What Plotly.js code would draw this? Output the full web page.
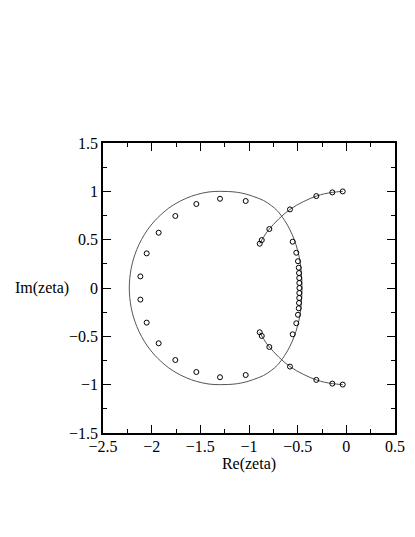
<!DOCTYPE html>
<html>
<head>
<meta charset="utf-8">
<script src="https://cdn.plot.ly/plotly-3.0.1.min.js"></script>
<style>
  html, body { margin: 0; padding: 0; background: #fff; }
  #myDiv { width: 415px; height: 537px; }
</style>
</head>
<body>
<div id="myDiv"></div>
<script>
// closed contour (upper half, right -> left), lower half is its mirror
const curveXUp = [-0.455, -0.458, -0.466, -0.48, -0.503, -0.535, -0.578, -0.635, -0.71, -0.77, -0.85, -0.95, -1.03, -1.12, -1.21, -1.30, -1.40, -1.485, -1.59, -1.705, -1.79, -1.858, -1.964, -2.044, -2.105, -2.152, -2.187, -2.211, -2.225, -2.23];
const curveYUp = [0.0, 0.1, 0.2, 0.3, 0.4, 0.5, 0.6, 0.7, 0.8, 0.852, 0.905, 0.945, 0.971, 0.99, 0.998, 1.0, 0.995, 0.98, 0.95, 0.9, 0.85, 0.8, 0.7, 0.6, 0.5, 0.4, 0.3, 0.2, 0.1, 0.0];

// points on the arc (upper branch), joined by a line
const arcX = [-0.89, -0.869, -0.791, -0.579, -0.308, -0.144, -0.037];
const arcYUp = [0.458, 0.496, 0.61, 0.813, 0.951, 0.989, 0.999];

// open points inside the contour, left side
const ringX = [-1.034, -1.298, -1.541, -1.757, -1.928, -2.051, -2.116];
const ringYUp = [0.90, 0.923, 0.869, 0.745, 0.572, 0.358, 0.12];

// open points along the right side
const colX = [-0.551, -0.514, -0.497, -0.489, -0.486, -0.484, -0.483, -0.482];
const colYUp = [0.479, 0.365, 0.277, 0.21, 0.155, 0.103, 0.052, 0.0];

const neg = (a) => a.map(v => -v);

const curveX = curveXUp.concat(curveXUp.slice(0, -1).reverse());
const curveY = curveYUp.concat(neg(curveYUp).slice(0, -1).reverse());

const marker = {symbol: 'circle-open', size: 5, color: '#000', line: {width: 1, color: '#000'}};

const traceCurve = {
  x: curveX, y: curveY,
  type: 'scatter', mode: 'lines',
  line: {color: '#555', width: 1, shape: 'spline', smoothing: 1}
};

const arcLine = {color: '#555', width: 1, shape: 'spline'};

const traceArcUp = {
  x: arcX, y: arcYUp,
  type: 'scatter', mode: 'lines+markers',
  line: arcLine, marker: marker
};

const traceArcDown = {
  x: arcX, y: neg(arcYUp),
  type: 'scatter', mode: 'lines+markers',
  line: arcLine, marker: marker
};

const traceRing = {
  x: ringX.concat(ringX), y: ringYUp.concat(neg(ringYUp)),
  type: 'scatter', mode: 'markers', marker: marker
};

const traceCol = {
  x: colX.concat(colX.slice(0, -1)), y: colYUp.concat(neg(colYUp.slice(0, -1))),
  type: 'scatter', mode: 'markers', marker: marker
};

const data = [traceCurve, traceArcUp, traceArcDown, traceRing, traceCol];

const serif = {family: 'Liberation Serif', size: 16, color: '#000'};

const layout = {
  width: 415,
  height: 537,
  margin: {l: 103, r: 20, t: 143, b: 104},
  paper_bgcolor: '#fff',
  plot_bgcolor: '#fff',
  showlegend: false,
  font: serif,
  xaxis: {
    range: [-2.5, 0.5],
    tick0: -2.5,
    dtick: 0.5,
    showgrid: false, zeroline: false,
    showline: true, linecolor: '#000', linewidth: 1.5, mirror: 'ticks',
    ticks: 'inside', ticklen: 8, tickwidth: 1, tickcolor: '#000',
    ticklabelstandoff: -2,
    minor: {dtick: 0.25, ticks: 'inside', ticklen: 4, tickwidth: 1, tickcolor: '#000', showgrid: false},
    title: {text: 'Re(zeta)', font: serif, standoff: 4}
  },
  yaxis: {
    range: [-1.5, 1.5],
    tick0: -1.5,
    dtick: 0.5,
    showgrid: false, zeroline: false,
    showline: true, linecolor: '#000', linewidth: 1.5, mirror: 'ticks',
    ticks: 'inside', ticklen: 8, tickwidth: 1, tickcolor: '#000',
    ticklabelstandoff: 0,
    minor: {dtick: 0.25, ticks: 'inside', ticklen: 4, tickwidth: 1, tickcolor: '#000', showgrid: false}
  },
  annotations: [{
    text: 'Im(zeta)',
    xref: 'paper', yref: 'paper',
    x: -0.21, y: 0.5,
    xanchor: 'center', yanchor: 'middle',
    showarrow: false,
    font: serif
  }]
};

Plotly.newPlot('myDiv', data, layout, {displayModeBar: false});
</script>
</body>
</html>
